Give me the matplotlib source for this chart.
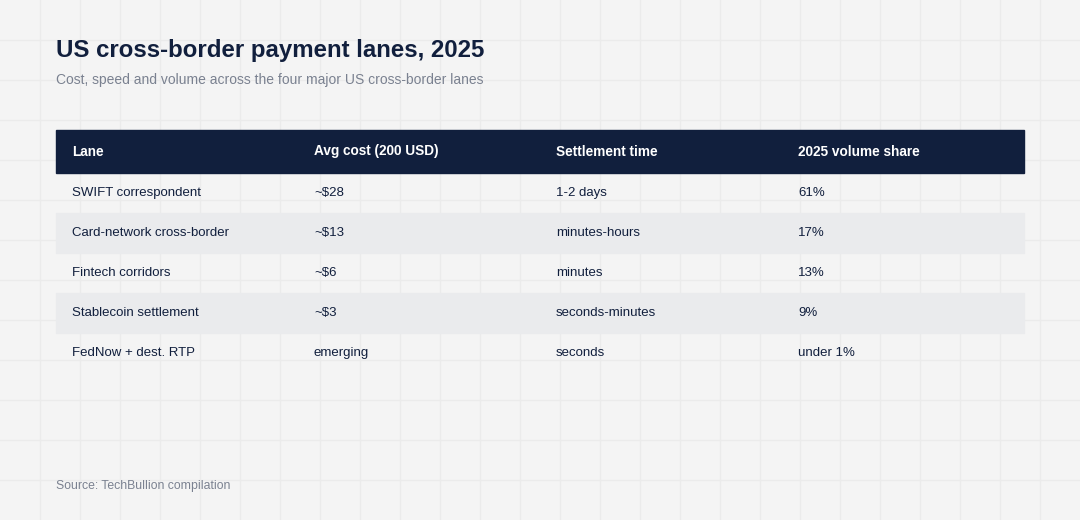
import matplotlib.pyplot as plt
from matplotlib.patches import Rectangle

plt.rcParams['font.family'] = ['Liberation Sans', 'DejaVu Sans']

headers = ["Lane", "Avg cost (200 USD)", "Settlement time", "2025 volume share"]
lanes = ["SWIFT correspondent", "Card-network cross-border", "Fintech corridors",
         "Stablecoin settlement", "FedNow + dest. RTP"]
costs = ["~$28", "~$13", "~$6", "~$3", "emerging"]
times = ["1-2 days", "minutes-hours", "minutes", "seconds-minutes", "seconds"]
shares = ["61%", "17%", "13%", "9%", "under 1%"]

navy = "#111f3d"
fig = plt.figure(figsize=(10.8, 5.2), dpi=100)
fig.patch.set_facecolor("#f4f4f4")
ax = fig.add_axes([0, 0, 1, 1])
ax.set_xlim(0, 1080)
ax.set_ylim(520, 0)
ax.axis("off")

# background grid
for g in range(40, 1080, 40):
    ax.axvline(g, color="#ebebeb", lw=1, zorder=0)
for g in range(40, 520, 40):
    ax.axhline(g, color="#ebebeb", lw=1, zorder=0)

ax.text(56, 51, "US cross-border payment lanes, 2025", fontsize=17.3, fontweight="bold",
        color=navy, va="center")
ax.text(56, 80, "Cost, speed and volume across the four major US cross-border lanes",
        fontsize=10.0, color="#7a8190", va="center")

colx = [72, 314, 556, 798]
ax.add_patch(Rectangle((56, 130), 968, 43, color=navy, zorder=2))
for x, h in zip(colx, headers):
    ax.text(x, 151.5, h, fontsize=9.8, fontweight="bold", color="white", va="center", zorder=3)

rows = list(zip(lanes, costs, times, shares))
for i, row in enumerate(rows):
    top = 173 + 40 * i
    if i % 2 == 1:
        ax.add_patch(Rectangle((56, top), 968, 40, color="#eaebed", zorder=2))
    for x, val in zip(colx, row):
        ax.text(x, top + 20, val, fontsize=9.5, color=navy, va="center", zorder=3)

ax.text(56, 486, "Source: TechBullion compilation", fontsize=8.8, color="#7a8190", va="center")

fig.savefig("out.png", dpi=100, facecolor=fig.get_facecolor())
